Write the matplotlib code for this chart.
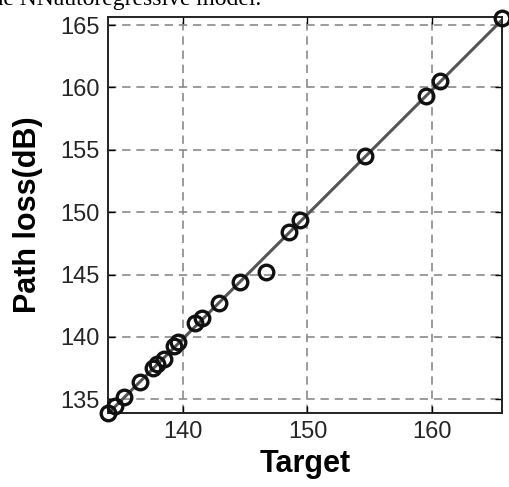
import numpy as np
import matplotlib
matplotlib.use("Agg")
import matplotlib.pyplot as plt

# values
target = [134.0, 134.6, 135.3, 136.6, 137.6, 137.9, 138.5, 139.3, 139.6, 141.0,
          141.5, 142.9, 144.6, 146.7, 148.5, 149.4, 154.6, 159.5, 160.6, 165.6]
path_loss = [133.9, 134.5, 135.2, 136.4, 137.5, 137.8, 138.2, 139.3, 139.6, 141.1,
             141.5, 142.7, 144.4, 145.2, 148.4, 149.4, 154.5, 159.3, 160.5, 165.6]
xticks = [140, 150, 160]
yticks = [135, 140, 145, 150, 155, 160, 165]

plt.rcParams["font.family"] = ["Liberation Sans", "DejaVu Sans"]

fig = plt.figure(figsize=(5.10, 4.87), dpi=100)
ax = fig.add_axes([108/510, 1 - 413/487, (502 - 108)/510, (413 - 17)/487])

# fit line
p = np.polyfit(target, path_loss, 1)
xl = np.array([min(target), max(target)])
ax.plot(xl, np.polyval(p, xl), color="#555555", lw=2.2, zorder=2)
ax.plot(target, path_loss, "o", mfc="none", mec="#111111", ms=10.5, mew=2.4,
        clip_on=False, zorder=3)

ax.set_xlim(134.0, 165.6)
ax.set_ylim(133.9, 165.65)
ax.set_xticks(xticks)
ax.set_yticks(yticks)
ax.grid(True, ls=(0, (5, 3.5)), color="#8a8a8a", lw=1.2)
ax.tick_params(direction="in", top=True, right=True, length=5, width=1,
               labelsize=17, labelcolor="#262626", pad=6)
for s in ax.spines.values():
    s.set_linewidth(1.4)
    s.set_color("#222222")

ax.set_xlabel("Target", fontsize=22, fontweight="bold", labelpad=4)
ax.set_ylabel("Path loss(dB)", fontsize=22, fontweight="bold", labelpad=12)

# cut-off caption text from the page above
fig.text(-0.03, 1 - 5/487, "the NNautoregressive model.", family="Liberation Serif",
         fontsize=17, va="baseline", ha="left")

fig.savefig("out.png", dpi=100)
